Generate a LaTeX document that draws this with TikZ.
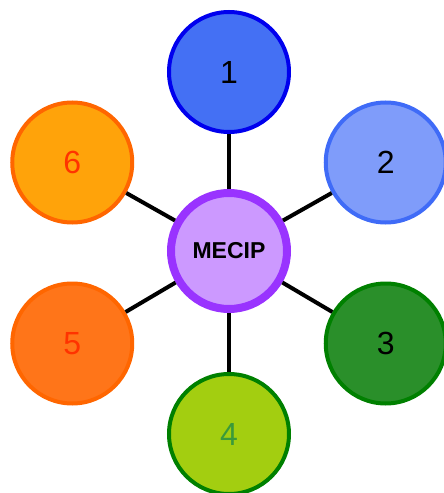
\documentclass[tikz,border=0pt]{standalone}
\usepackage{fontspec}
\setmainfont{Liberation Sans}
\usepackage{xcolor}
\usepackage{tikz}

\definecolor{hubfill}{HTML}{CC99FF}
\definecolor{hubline}{HTML}{9933FF}
\definecolor{bluefill}{HTML}{4470F4}
\definecolor{blueline}{HTML}{0000EE}
\definecolor{skyfill}{HTML}{7F9CFA}
\definecolor{skyline}{HTML}{3F6BF7}
\definecolor{greenfill}{HTML}{2A8F2A}
\definecolor{greenline}{HTML}{008000}
\definecolor{limefill}{HTML}{A3CE10}
\definecolor{limetext}{HTML}{3A9A3A}
\definecolor{orangefill}{HTML}{FF7519}
\definecolor{orangeline}{HTML}{FF6600}
\definecolor{amberfill}{HTML}{FFA30A}
\definecolor{redtext}{HTML}{FF3300}

\tikzset{
    petal/.style={circle, line width=4pt, minimum size=120pt, inner sep=0pt,
        yshift=-2pt, font=\fontsize{32}{36}\selectfont},
    hub/.style={circle, draw=hubline, fill=hubfill, line width=8pt,
        minimum size=116pt, inner sep=0pt, font=\fontsize{23}{26}\selectfont\bfseries},
    spoke/.style={line width=4pt, black}
}

\begin{document}
\begin{tikzpicture}[x=1pt, y=1pt]
    \useasboundingbox (-229,-242) rectangle (215,251);

    % Centre
    \node [hub] (c) at (0,0) {MECIP};

    % Outer circles
    \foreach \i/\ang/\fc/\dc/\tc in {1/90/bluefill/blueline/black,
                                     2/30/skyfill/skyline/black,
                                     3/-30/greenfill/greenline/black,
                                     4/-90/limefill/greenline/limetext,
                                     5/210/orangefill/orangeline/redtext,
                                     6/150/amberfill/orangeline/redtext} {
        \node [petal, fill=\fc, draw=\dc, text=\tc] (n\i) at (\ang:181) {\i};
    }

    % Spokes
    \foreach \i in {1,...,6} {
        \draw [spoke] (c) -- (n\i);
    }
\end{tikzpicture}
\end{document}
